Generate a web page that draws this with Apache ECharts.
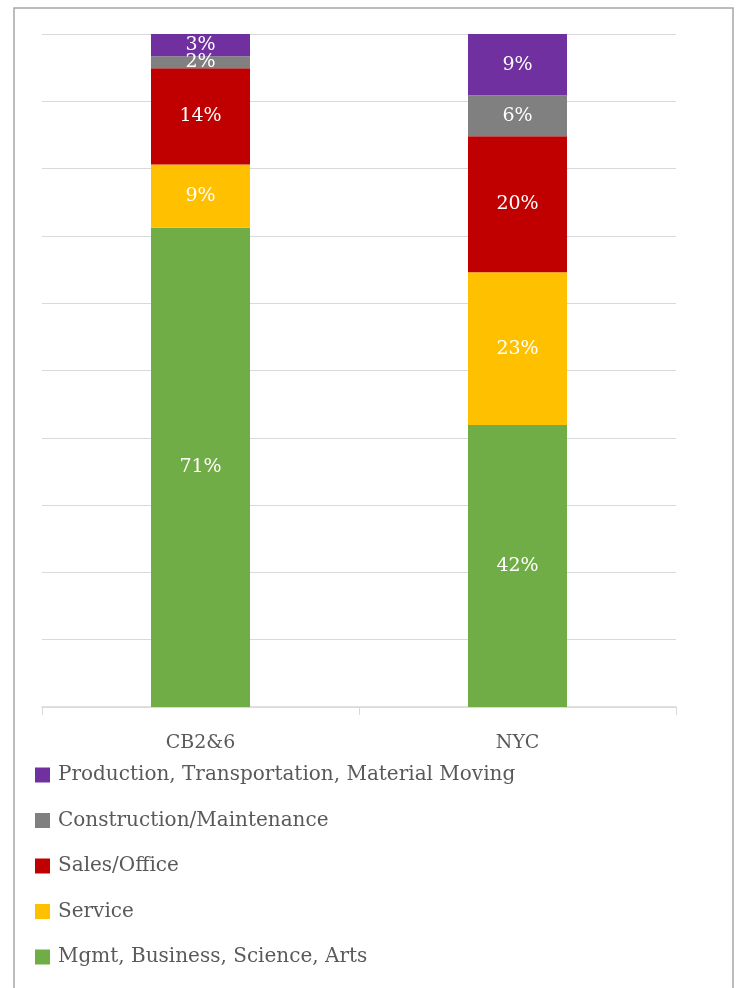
<!DOCTYPE html>
<html>
<head>
<meta charset="utf-8">
<script src="https://cdn.jsdelivr.net/npm/echarts@6/dist/echarts.min.js"></script>
<style>
  html, body { margin: 0; padding: 0; background: #fff; }
  #main { width: 740px; height: 988px; }
</style>
</head>
<body>
<div id="main"></div>
<script>
// categories and stacked shares (percent), bottom to top
var categories = ['CB2&6', 'NYC'];
var seriesNames = [
  'Mgmt, Business, Science, Arts',
  'Service',
  'Sales/Office',
  'Construction/Maintenance',
  'Production, Transportation, Material Moving'
];
var mgmt = [71.2, 41.9];
var service = [9.4, 22.7];
var sales = [14.3, 20.2];
var construction = [1.8, 6.1];
var production = [3.3, 9.1];
var colors = ['#70ad47', '#ffc000', '#c00000', '#808080', '#7030a0'];

var font = '"DejaVu Serif", "Liberation Serif", serif';
var values = [mgmt, service, sales, construction, production];

var series = seriesNames.map(function (name, i) {
  return {
    name: name,
    type: 'bar',
    stack: 'total',
    barWidth: 99,
    data: values[i],
    itemStyle: { color: colors[i] },
    label: {
      show: true,
      position: 'inside',
      color: '#fff',
      fontFamily: font,
      fontSize: 19,
      formatter: function (p) { return Math.round(p.value) + '%'; }
    }
  };
});

var myChart = echarts.init(document.getElementById('main'));
var option = {
  animation: false,
  graphic: [{
    type: 'rect',
    shape: { x: 14, y: 8, width: 719, height: 1000 },
    style: { fill: 'none', stroke: '#a6a6a6', lineWidth: 1.5 },
    z: -1
  }],
  grid: { left: 42, right: 64, top: 34, bottom: 281 },
  legend: {
    orient: 'vertical',
    left: 35,
    top: 765,
    padding: 0,
    itemWidth: 15,
    itemHeight: 15,
    itemGap: 25.5,
    icon: 'rect',
    data: seriesNames.slice().reverse(),
    textStyle: { fontFamily: font, fontSize: 20, color: '#595959', padding: [0, 0, 0, 3] }
  },
  xAxis: {
    type: 'category',
    data: categories,
    axisLine: { lineStyle: { color: '#d9d9d9', width: 1.5 } },
    axisTick: { show: true, length: 8, lineStyle: { color: '#d9d9d9' } },
    axisLabel: { fontFamily: font, fontSize: 19, color: '#595959', margin: 27 }
  },
  yAxis: {
    type: 'value',
    min: 0,
    max: 100,
    interval: 10,
    axisLabel: { show: false },
    axisLine: { show: false },
    axisTick: { show: false },
    splitLine: { lineStyle: { color: '#d9d9d9', width: 1 } }
  },
  series: series
};
myChart.setOption(option);
</script>
</body>
</html>
